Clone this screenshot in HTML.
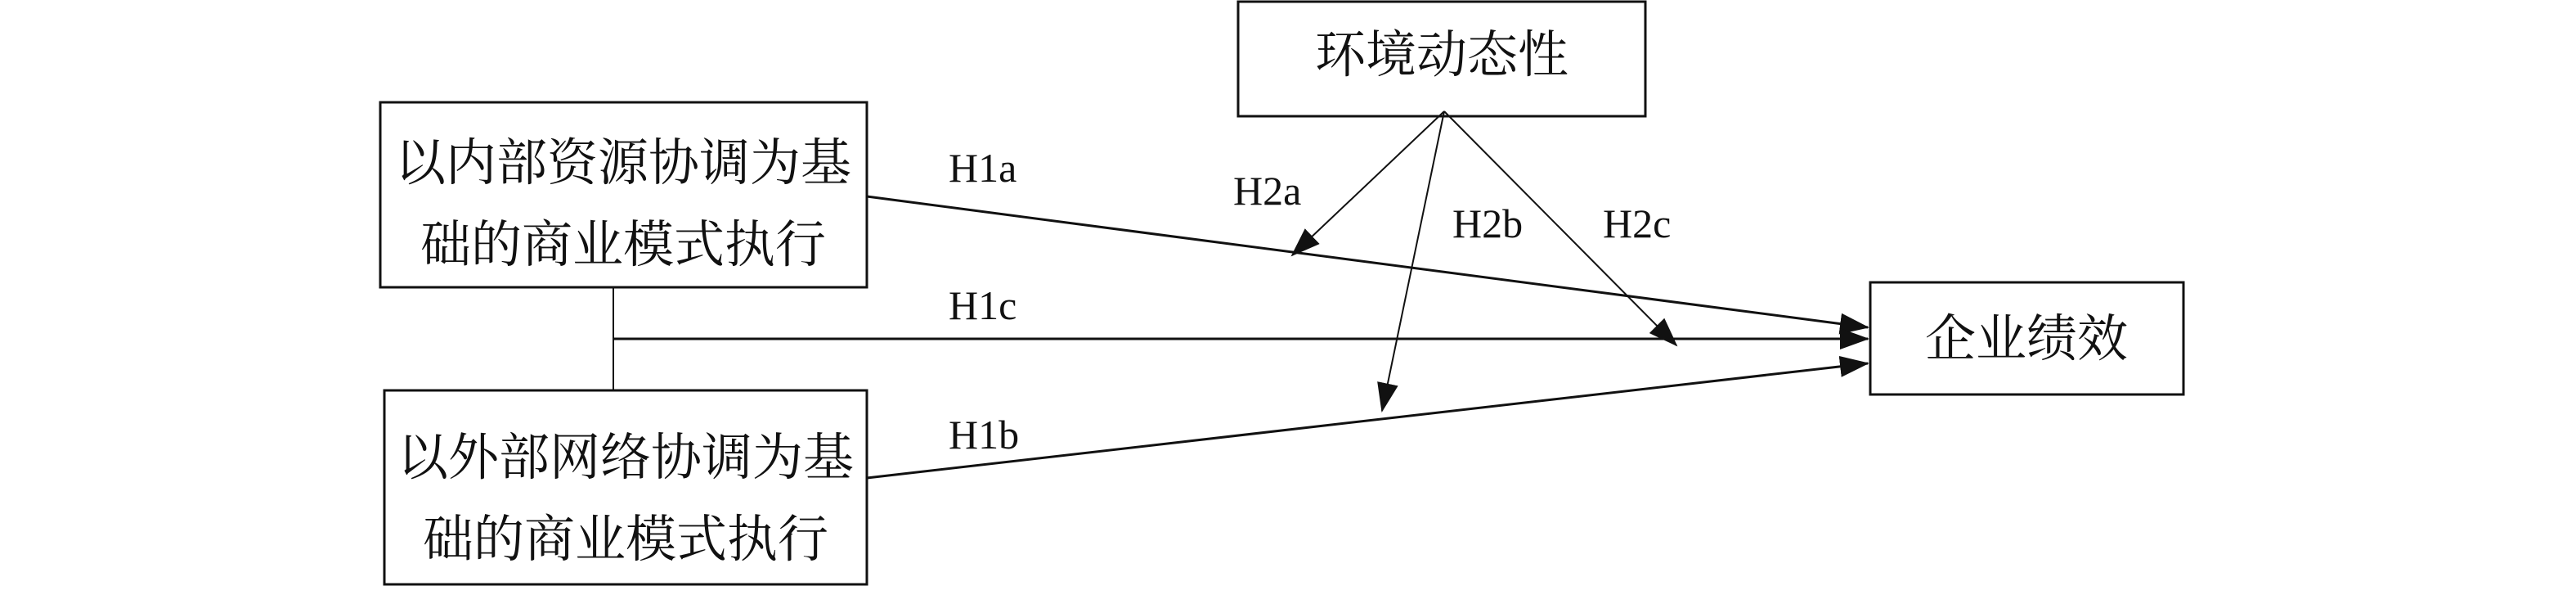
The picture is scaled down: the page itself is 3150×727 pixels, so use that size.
<!DOCTYPE html>
<html><head><meta charset="utf-8"><style>
html,body{margin:0;padding:0;background:#fff;}
body{width:3150px;height:722px;overflow:hidden;}
svg text{font-family:"Liberation Serif","Noto Serif CJK SC",serif;fill:#111;}
</style></head><body>
<svg width="3150" height="722" viewBox="0 0 3150 722" xmlns="http://www.w3.org/2000/svg">
<defs>
<marker id="a" markerWidth="14" markerHeight="10" refX="13" refY="5" orient="auto" markerUnits="userSpaceOnUse" viewBox="0 0 14 10">
<path d="M0,0 L14,5 L0,10 z" fill="#111"/></marker>
<marker id="b" markerWidth="36" markerHeight="26" refX="34" refY="13" orient="auto" markerUnits="userSpaceOnUse" viewBox="0 0 36 26">
<path d="M0,0 L36,13 L0,26 z" fill="#111"/></marker>
</defs>
<g fill="none" stroke="#111" stroke-width="3">
<rect x="1514" y="2" width="498" height="140"/>
<rect x="465" y="125" width="595" height="226"/>
<rect x="470" y="477" width="590" height="237"/>
<rect x="2287" y="345" width="383" height="137"/>
</g>
<g stroke="#111" stroke-width="3" fill="none">
<line x1="1060" y1="240" x2="2284" y2="400" marker-end="url(#b)"/>
<line x1="750" y1="414" x2="2284" y2="414" marker-end="url(#b)"/>
<line x1="1060" y1="584" x2="2284" y2="444" marker-end="url(#b)"/>
</g>
<line x1="750" y1="351" x2="750" y2="476" stroke="#111" stroke-width="2"/>
<g stroke="#111" stroke-width="2" fill="none">
<line x1="1766" y1="136" x2="1580" y2="312" marker-end="url(#b)"/>
<line x1="1766" y1="136" x2="1690" y2="502" marker-end="url(#b)"/>
<line x1="1766" y1="136" x2="2050" y2="422" marker-end="url(#b)"/>
</g>
<g font-size="62">
<text x="1763" y="88" text-anchor="middle">环境动态性</text>
<text x="762" y="220" text-anchor="middle">以内部资源协调为基</text>
<text x="762" y="320" text-anchor="middle">础的商业模式执行</text>
<text x="765" y="580" text-anchor="middle">以外部网络协调为基</text>
<text x="765" y="680" text-anchor="middle">础的商业模式执行</text>
<text x="2478" y="435" text-anchor="middle">企业绩效</text>
</g>
<g font-size="50">
<text x="1160" y="222">H1a</text>
<text x="1160" y="390">H1c</text>
<text x="1160" y="548">H1b</text>
<text x="1508" y="250">H2a</text>
<text x="1776" y="290">H2b</text>
<text x="1960" y="290">H2c</text>
</g>
</svg>
</body></html>
